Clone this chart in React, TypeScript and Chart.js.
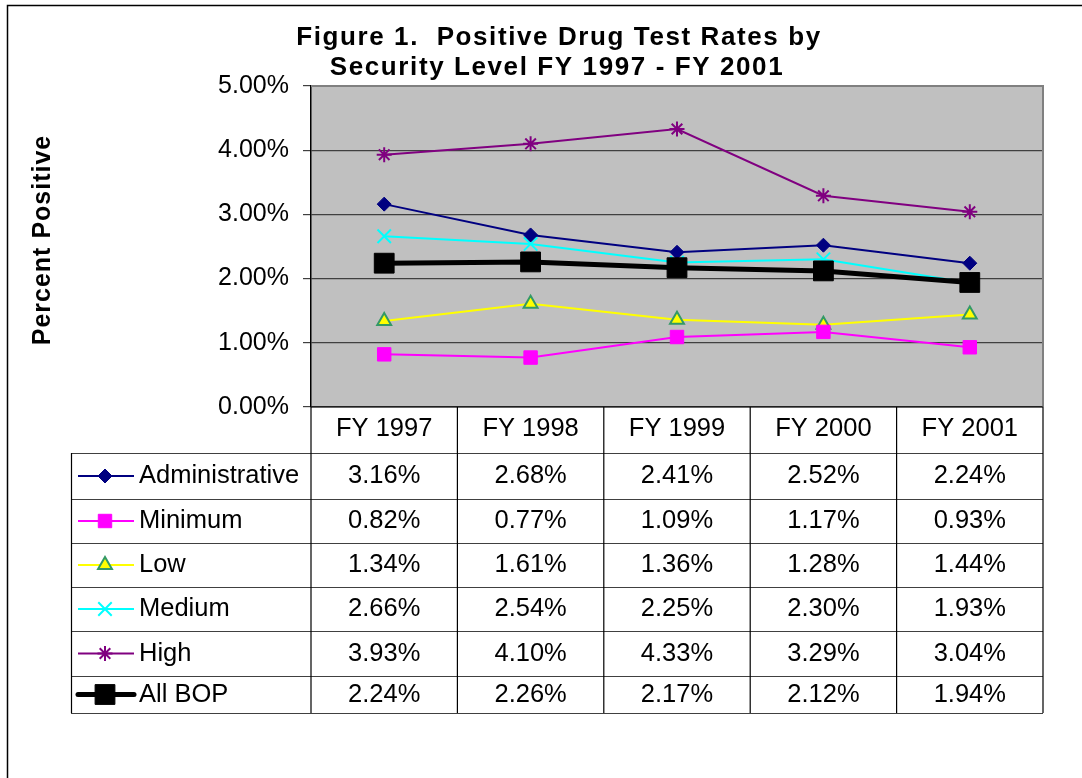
import React, { useEffect, useRef } from 'react';
import { Chart, registerables } from 'chart.js';
import { drawPoint } from 'chart.js/helpers';

Chart.register(...registerables);

// ---- data ----
const categories = ['FY 1997', 'FY 1998', 'FY 1999', 'FY 2000', 'FY 2001'];
const seriesNames = ['Administrative', 'Minimum', 'Low', 'Medium', 'High', 'All BOP'];
const administrative = [3.16, 2.68, 2.41, 2.52, 2.24];
const minimum = [0.82, 0.77, 1.09, 1.17, 0.93];
const low = [1.34, 1.61, 1.36, 1.28, 1.44];
const medium = [2.66, 2.54, 2.25, 2.30, 1.93];
const high = [3.93, 4.10, 4.33, 3.29, 3.04];
const allBop = [2.24, 2.26, 2.17, 2.12, 1.94];
const yMin = 0;
const yMax = 5;
const yStep = 1;
const titleLines = ['Figure 1.  Positive Drug Test Rates by', 'Security Level FY 1997 - FY 2001'];
const yTitle = 'Percent Positive';

// ---- layout / style ----
const FONT = '"Liberation Sans", Arial, Helvetica, sans-serif';
const W = 1082;
const H = 778;
const ROW_EDGES = [453, 499, 543, 587, 631, 676, 713];
const TABLE_LEFT = 71;

const styles = [
  { color: '#000080', pointStyle: 'rectRot', radius: 7, bg: '#000080', bw: 1, lw: 2 },
  { color: '#FF00FF', pointStyle: 'rect', radius: 9.5, bg: '#FF00FF', bw: 1, lw: 2 },
  { color: '#FFFF00', pointStyle: 'triangle', radius: 8, bg: '#FFFF00', bw: 2, lw: 2, pointBorder: '#339966' },
  { color: '#00FFFF', pointStyle: 'crossRot', radius: 9.5, bg: '#00FFFF', bw: 2, lw: 2 },
  { color: '#800080', pointStyle: 'star', radius: 7.5, bg: '#800080', bw: 2, lw: 2 },
  { color: '#000000', pointStyle: 'rect', radius: 14, bg: '#000000', bw: 1, lw: 5 },
];
const seriesValues = [administrative, minimum, low, medium, high, allBop];

const decorPlugin = {
  id: 'decor',
  beforeDraw(chart: any) {
    const { ctx, chartArea: a } = chart;
    ctx.save();
    ctx.fillStyle = '#ffffff';
    ctx.fillRect(0, 0, chart.width, chart.height);
    ctx.strokeStyle = '#000';
    ctx.lineWidth = 1.5;
    ctx.strokeRect(7.5, 5.5, chart.width + 20, chart.height + 20);
    ctx.fillStyle = '#C0C0C0';
    ctx.fillRect(a.left, a.top, a.right - a.left, a.bottom - a.top);
    ctx.restore();
  },
  beforeDatasetsDraw(chart: any) {
    const { ctx, chartArea: a } = chart;
    ctx.save();
    ctx.strokeStyle = '#808080';
    ctx.lineWidth = 2;
    ctx.beginPath();
    ctx.moveTo(a.left, a.top);
    ctx.lineTo(a.right, a.top);
    ctx.lineTo(a.right, a.bottom);
    ctx.stroke();
    ctx.restore();
  },
  afterDraw(chart: any) {
    const { ctx, chartArea: a } = chart;
    const xs = chart.scales.x;
    ctx.save();

    // title
    ctx.fillStyle = '#000';
    ctx.font = `bold 26px ${FONT}`;
    (ctx as any).letterSpacing = '1.6px';
    ctx.textAlign = 'center';
    ctx.textBaseline = 'alphabetic';
    ctx.fillText(titleLines[0], 559, 45);
    ctx.fillText(titleLines[1], 557, 75);

    // y title
    ctx.save();
    ctx.font = `bold 25px ${FONT}`;
    (ctx as any).letterSpacing = '1px';
    ctx.translate(50, 240);
    ctx.rotate(-Math.PI / 2);
    ctx.fillText(yTitle, 0, 0);
    ctx.restore();
    (ctx as any).letterSpacing = '0px';

    // table grid
    const n = categories.length;
    const half = (xs.getPixelForValue(1) - xs.getPixelForValue(0)) / 2;
    const edges: number[] = [];
    for (let i = 0; i < n; i++) edges.push(xs.getPixelForValue(i) - half);
    edges.push(xs.getPixelForValue(n - 1) + half);
    const tBottom = ROW_EDGES[ROW_EDGES.length - 1];

    ctx.lineWidth = 1.2;
    ctx.strokeStyle = '#404040';
    ctx.beginPath();
    for (const y of ROW_EDGES) {
      ctx.moveTo(TABLE_LEFT, y + 0.5);
      ctx.lineTo(a.right, y + 0.5);
    }
    ctx.stroke();

    ctx.strokeStyle = '#000';
    ctx.beginPath();
    ctx.moveTo(a.left, a.bottom);
    ctx.lineTo(a.right, a.bottom);
    for (const x of edges) {
      ctx.moveTo(x, a.bottom);
      ctx.lineTo(x, tBottom);
    }
    ctx.moveTo(TABLE_LEFT + 0.5, ROW_EDGES[0]);
    ctx.lineTo(TABLE_LEFT + 0.5, tBottom);
    ctx.stroke();

    // header
    ctx.font = `25.5px ${FONT}`;
    ctx.fillStyle = '#000';
    ctx.textAlign = 'center';
    ctx.textBaseline = 'middle';
    categories.forEach((c, i) => {
      ctx.fillText(c, xs.getPixelForValue(i), (a.bottom + ROW_EDGES[0]) / 2 - 1);
    });

    // rows
    seriesNames.forEach((name, r) => {
      const cy = (ROW_EDGES[r] + ROW_EDGES[r + 1]) / 2;
      const st = styles[r];
      ctx.strokeStyle = st.color;
      ctx.lineWidth = st.lw;
      ctx.lineCap = r === 5 ? 'round' : 'butt';
      ctx.beginPath();
      ctx.moveTo(78, cy);
      ctx.lineTo(134, cy);
      ctx.stroke();
      ctx.lineCap = 'butt';
      ctx.fillStyle = st.bg;
      ctx.strokeStyle = st.pointBorder || st.color;
      ctx.lineWidth = st.bw;
      drawPoint(ctx, { pointStyle: st.pointStyle as any, rotation: 0, radius: st.radius, borderWidth: st.bw }, 105, cy);
      ctx.fillStyle = '#000';
      ctx.textAlign = 'left';
      ctx.fillText(name, 139, cy);
      ctx.textAlign = 'center';
      seriesValues[r].forEach((v, i) => {
        ctx.fillText(v.toFixed(2) + '%', xs.getPixelForValue(i), cy);
      });
    });

    ctx.restore();
  },
};

export default function App() {
  const ref = useRef<HTMLCanvasElement>(null);
  useEffect(() => {
    if (!ref.current) return;
    const datasets = seriesNames.map((name, i) => {
      const st = styles[i];
      return {
        label: name,
        data: seriesValues[i],
        borderColor: st.color,
        backgroundColor: st.bg,
        borderWidth: st.lw,
        pointStyle: st.pointStyle,
        pointRadius: st.radius,
        pointHoverRadius: st.radius,
        pointBackgroundColor: st.bg,
        pointBorderColor: st.pointBorder || st.color,
        pointBorderWidth: st.bw,
        tension: 0,
        fill: false,
        order: i === 5 ? -1 : i,
      };
    });
    const chart = new Chart(ref.current, {
      type: 'line',
      data: { labels: categories, datasets: datasets as any },
      options: {
        responsive: false,
        animation: false,
        devicePixelRatio: 1,
        layout: { padding: { top: 86, right: 39, bottom: 371, left: 0 } },
        plugins: {
          legend: { display: false },
          title: { display: false },
          tooltip: { enabled: false },
        },
        events: [],
        scales: {
          x: { display: false, offset: true },
          y: {
            min: yMin,
            max: yMax,
            afterFit(s: any) {
              s.width = 311;
            },
            ticks: {
              stepSize: yStep,
              callback: (v: any) => Number(v).toFixed(2) + '%',
              font: { family: FONT, size: 25 },
              color: '#000',
              padding: 14,
            },
            grid: { color: '#404040', lineWidth: 1.2, tickLength: 8 },
            border: { color: '#000', width: 1.5 },
          },
        },
      },
      plugins: [decorPlugin],
    });
    return () => chart.destroy();
  }, []);
  return (
    <div style={{ position: 'absolute', left: 0, top: 0, width: W, height: H }}>
      <canvas ref={ref} width={W} height={H} />
    </div>
  );
}
